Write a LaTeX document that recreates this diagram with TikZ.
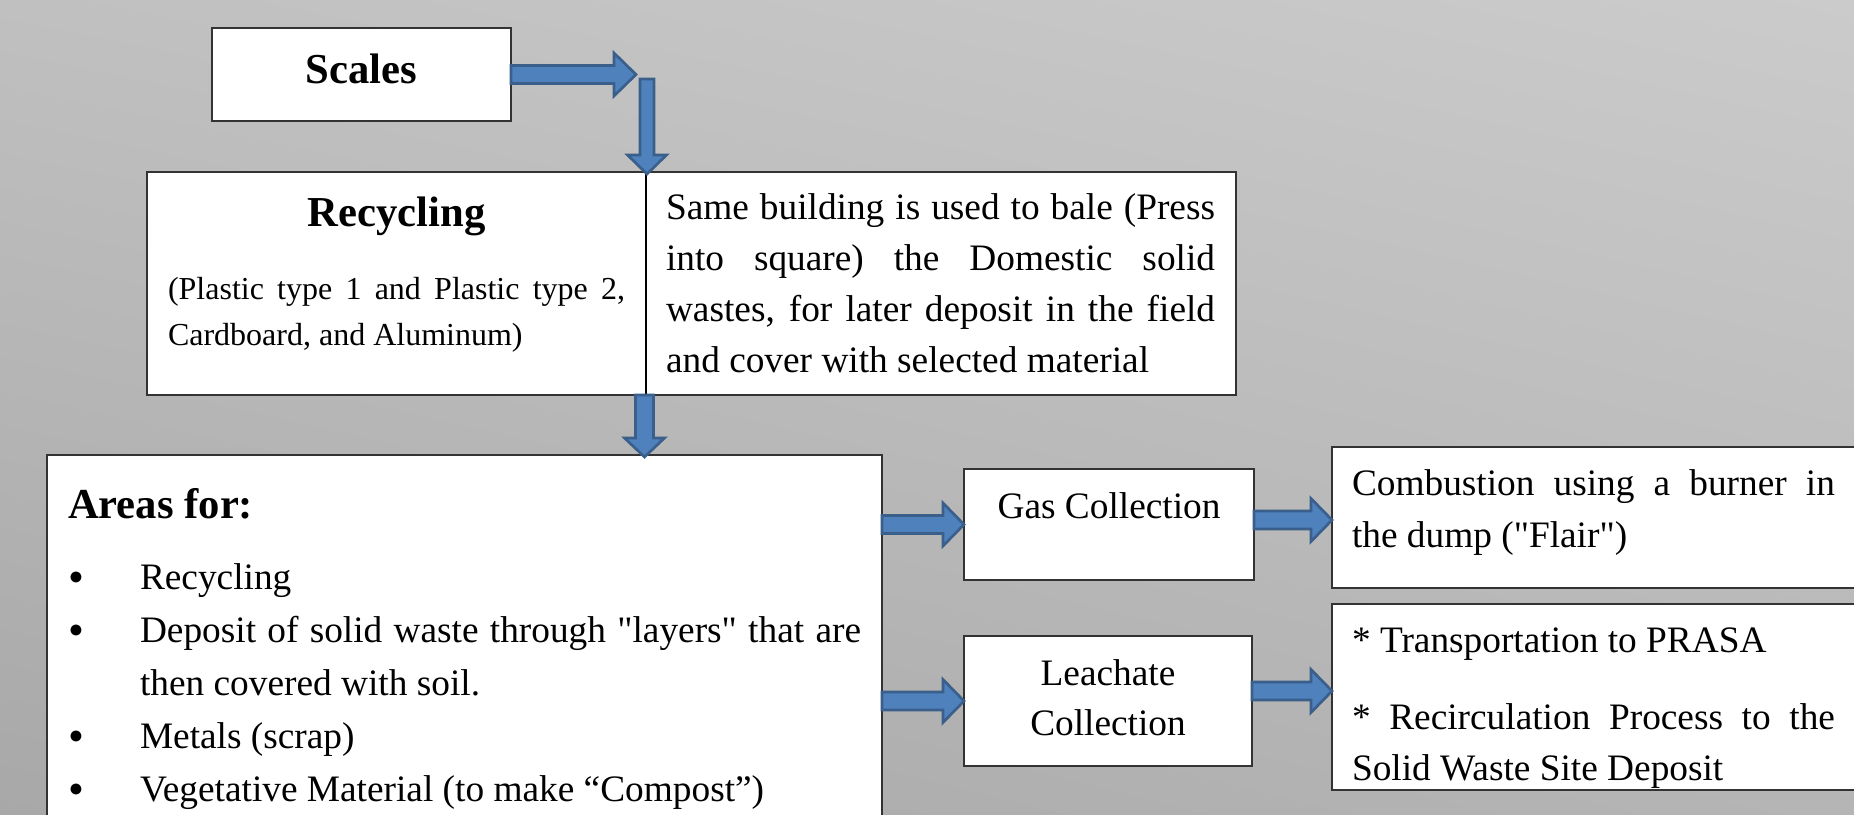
\documentclass[tikz,border=0pt]{standalone}
\usepackage{fontspec}
\setmainfont{Liberation Serif}[Ligatures=TeXOff]
\usetikzlibrary{calc,fit,shadings}

\definecolor{arrowfill}{HTML}{4F81BD}
\definecolor{arrowline}{HTML}{3A5F8B}
\definecolor{bgUL}{HTML}{C0C0C0}
\definecolor{bgUR}{HTML}{CBCBCB}
\definecolor{bgLL}{HTML}{A8A8A8}
\definecolor{bgLR}{HTML}{B5B5B5}

% one line of a justified paragraph, spread to the full width
\newcommand\jl[1]{\makebox[\linewidth][s]{#1}}

% block arrows: start, tip, shaft half-width, head half-width, head length
\newcommand\harrow[5]{%
  \draw[blockarrow] ($(#1)+(0,#3)$) -- ($(#2)+(-#5,#3)$) -- ($(#2)+(-#5,#4)$) -- (#2)
    -- ($(#2)+(-#5,-#4)$) -- ($(#2)+(-#5,-#3)$) -- ($(#1)+(0,-#3)$) -- cycle;}
\newcommand\varrow[5]{%
  \draw[blockarrow] ($(#1)+(#3,0)$) -- ($(#2)+(#3,-#5)$) -- ($(#2)+(#4,-#5)$) -- (#2)
    -- ($(#2)+(-#4,-#5)$) -- ($(#2)+(-#3,-#5)$) -- ($(#1)+(-#3,0)$) -- cycle;}

\tikzset{
  box/.style={draw=black!80, line width=0.75pt, fill=white, inner sep=0pt, outer sep=0pt},
  txt/.style={inner sep=0pt, outer sep=0pt, font=\fontsize{14}{16}\selectfont},
  title/.style={txt, font=\fontsize{16}{18}\selectfont\bfseries},
  bulletmark/.style={inner sep=0pt, outer sep=0pt, anchor=base, font=\fontsize{17}{17}\selectfont},
  blockarrow/.style={draw=arrowline, fill=arrowfill, line width=1pt, line join=miter},
  divider/.style={draw=black, line width=0.5pt},
}

\begin{document}
\begin{tikzpicture}[x=0.375pt,y=-0.375pt]
\useasboundingbox (0,0) rectangle (1854,815);
\clip (0,0) rectangle (1854,815);
\shade[upper left=bgUL, upper right=bgUR, lower left=bgLL, lower right=bgLR]
  (0,0) rectangle (1854,815);

% boxes
\node[box, fit={(212,28)(511,121)}] (scales) {};
\node[box, fit={(147,172)(1236,395)}] (recyc) {};
\node[box, fit={(47,455)(882,850)}] (areas) {};
\node[box, fit={(964,469)(1254,580)}] (gas) {};
\node[box, fit={(964,636)(1252,766)}] (leach) {};
\node[box, fit={(1332,447)(1880,588)}] (comb) {};
\node[box, fit={(1332,604)(1880,790)}] (transp) {};

% helper positions
\coordinate (div) at (646,0);
\coordinate (bend) at (636,0);
\coordinate (drop) at (647,79);
\coordinate (mid) at (644.5,0);
\coordinate (r1) at (0,520);
\coordinate (r2) at (0,691);

\draw[divider] (recyc.north -| div) -- (recyc.south -| div);

% texts
\node[title, anchor=base] (scalesT) at (361.5,84) {Scales};
\node[title, anchor=base] (recycT) at (396.5,227) {Recycling};
\node[txt, anchor=base west] (plastT) at (168,300) {\parbox[t]{171.4pt}{\fontsize{12}{16.9}\selectfont
  \jl{(Plastic type 1 and Plastic type 2,}\\
  Cardboard, and Aluminum)}};
\node[txt, anchor=base west] (baleT) at (666,220) {\parbox[t]{205.9pt}{\fontsize{14}{19.1}\selectfont
  \jl{Same building is used to bale (Press}\\
  \jl{into square) the Domestic solid}\\
  \jl{wastes, for later deposit in the field}\\
  and cover with selected material}};

\node[title, anchor=base west] (areasT) at (68,518) {Areas for:};
\node[txt, anchor=base west] (listT) at (140,589) {\parbox[t]{270.4pt}{\fontsize{14}{19.875}\selectfont
  Recycling\\
  \jl{Deposit of solid waste through "layers" that are}\\
  then covered with soil.\\
  Metals (scrap)\\
  Vegetative Material (to make “Compost”)}};
\node[bulletmark] (b1) at (76,592) {•};
\node[bulletmark] (b2) at (76,645) {•};
\node[bulletmark] (b3) at (76,751) {•};
\node[bulletmark] (b4) at (76,804) {•};

\node[txt, anchor=base] (gasT) at (1109,518) {Gas Collection};
\node[txt, anchor=base] (leachT) at (1108,685) {\parbox[t]{100pt}{\centering\fontsize{14}{18.75}\selectfont
  Leachate\\Collection}};
\node[txt, anchor=base west] (combT) at (1352,495) {\parbox[t]{181.1pt}{\fontsize{14}{19.5}\selectfont
  \jl{Combustion using a burner in}\\
  the dump ("Flair")}};
\node[txt, anchor=base west] (transT) at (1352,652) {\parbox[t]{181.1pt}{\fontsize{14}{19.125}\selectfont
  * Transportation to PRASA\par\vspace{10.1pt}
  \jl{* Recirculation Process to the}\\
  Solid Waste Site Deposit}};

% flow arrows
\coordinate (droptip) at ($(drop |- recyc.north)+(0,2)$);
\coordinate (a3s) at (recyc.south -| mid);
\coordinate (a3t) at ($(areas.north -| mid)+(0,2)$);
\harrow{scales.east}{scales.east -| bend}{9}{21.5}{22}
\varrow{drop}{droptip}{7}{19.5}{19}
\varrow{a3s}{a3t}{9}{20}{19}
\harrow{areas.east |- gas.west}{gas.west}{9}{21.5}{21}
\harrow{areas.east |- leach.west}{leach.west}{9}{21.5}{21}
\harrow{gas.east |- r1}{comb.west |- r1}{9}{21.5}{21}
\harrow{leach.east |- r2}{transp.west |- r2}{9}{21.5}{21}
\end{tikzpicture}
\end{document}
